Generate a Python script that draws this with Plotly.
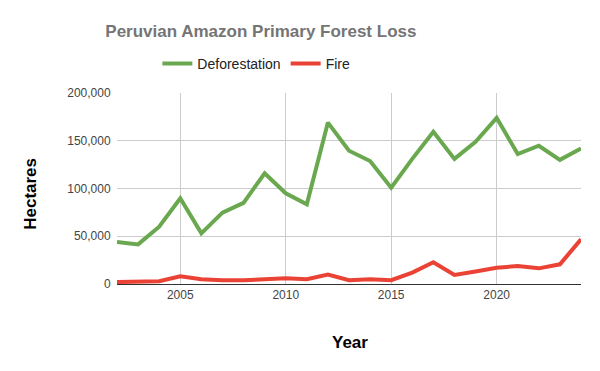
import plotly.graph_objects as go

years = list(range(2002, 2025))
deforestation = [44000, 41500, 60000, 89700, 53000, 74700, 85000, 116000, 95000, 83400,
                 169000, 139600, 128800, 100900, 131000, 159500, 131000, 149000, 174000,
                 136000, 144800, 130000, 142000]
fire = [2000, 2800, 3000, 8000, 5000, 3800, 3800, 5000, 6000, 5000,
        9800, 4000, 5000, 4000, 12000, 22700, 9400, 13000, 17000, 18800,
        16400, 20600, 46800]

fig = go.Figure()
fig.add_trace(go.Scatter(x=years, y=deforestation, mode="lines", name="Deforestation",
                         line=dict(color="#6aa84f", width=4)))
fig.add_trace(go.Scatter(x=years, y=fire, mode="lines", name="Fire",
                         line=dict(color="#ea4335", width=4)))

fig.update_layout(
    width=584, height=355,
    margin=dict(l=109, r=11, t=85, b=79, autoexpand=False),
    paper_bgcolor="white", plot_bgcolor="white",
    font=dict(family="Liberation Sans, Arial, sans-serif", color="#222222"),
    title=dict(text="<b>Peruvian Amazon Primary Forest Loss</b>", x=0.433, xanchor="center",
               y=0.935, yanchor="middle", font=dict(size=17, color="#757575")),
    legend=dict(orientation="h", x=0.087, xanchor="left", y=1.152, yanchor="middle",
                font=dict(size=14, color="#222222")),
    xaxis=dict(range=[2002, 2024], tickvals=[2005, 2010, 2015, 2020],
               showgrid=True, gridcolor="#cccccc", gridwidth=1,
               showline=True, linecolor="#333333", linewidth=1,
               zeroline=False, tickfont=dict(size=12, color="#444444"), automargin=False),
    yaxis=dict(range=[0, 200000], tickvals=[0, 50000, 100000, 150000, 200000],
               tickformat=",", showgrid=True, gridcolor="#cccccc", gridwidth=1,
               zeroline=False, showline=False, tickfont=dict(size=12, color="#444444"),
               ticks="outside", ticklen=3, tickcolor="rgba(0,0,0,0)",
               automargin=False),
    annotations=[
        dict(text="<b>Year</b>", xref="paper", yref="paper", x=0.503, y=-0.304,
             xanchor="center", yanchor="middle", showarrow=False,
             font=dict(size=17, color="#000000")),
        dict(text="<b>Hectares</b>", xref="paper", yref="paper", x=-0.188, y=0.471,
             xanchor="center", yanchor="middle", showarrow=False, textangle=-90,
             font=dict(size=17, color="#000000")),
    ],
)

fig.write_html("out.html")
